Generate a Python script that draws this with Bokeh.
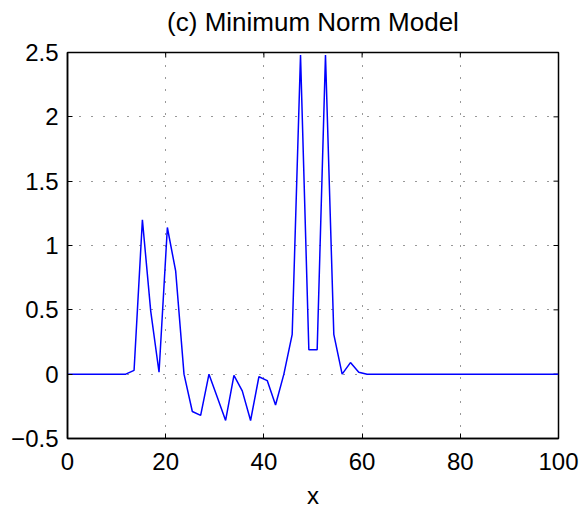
import numpy as np
from bokeh.plotting import figure
from bokeh.models import FixedTicker, Range1d, LinearAxis
from bokeh.embed import file_html
from bokeh.resources import INLINE

# ---- data ----
n_points = 60
x_values = np.linspace(0, 100, n_points)
y_values = [
    0, 0, 0, 0, 0, 0, 0, 0,            # i0-7
    0.03, 1.20, 0.49, 0.015, 1.14, 0.80,  # i8-13
    0.0, -0.29, -0.32, 0.0, -0.18, -0.36,  # i14-19
    -0.01, -0.13, -0.36, -0.02, -0.05, -0.24,  # i20-25
    0.0, 0.31, 2.48, 0.19, 0.19, 2.48,  # i26-31
    0.31, 0.0, 0.09, 0.015, 0.0,        # i32-36
    0, 0, 0, 0, 0, 0, 0, 0, 0, 0, 0, 0,
    0, 0, 0, 0, 0, 0, 0, 0, 0, 0, 0,    # i37-59
]
x_ticks = [0, 20, 40, 60, 80, 100]
x_tick_labels = ["0", "20", "40", "60", "80", "100"]
y_ticks = [-0.5, 0, 0.5, 1, 1.5, 2, 2.5]
y_tick_labels = ["\u22120.5", "0", "0.5", "1", "1.5", "2", "2.5"]
x_min, x_max = 0, 100
y_min, y_max = -0.5, 2.5

title_text = "(c) Minimum Norm Model"
x_label = "x"

FONT = "Liberation Sans"
FS = "24px"

p = figure(
    frame_width=491, frame_height=386,
    x_range=Range1d(x_min, x_max), y_range=Range1d(y_min, y_max),
    output_backend="svg", toolbar_location=None,
    min_border_left=67, min_border_right=23,
    min_border_top=52, min_border_bottom=70,
    background_fill_color="white", border_fill_color="white",
)

p.outline_line_color = "black"
p.outline_line_width = 1.5

xaxis = p.below[0]
yaxis = p.left[0]

for ax, ticks, labels in ((xaxis, x_ticks, x_tick_labels), (yaxis, y_ticks, y_tick_labels)):
    ax.ticker = FixedTicker(ticks=ticks)
    ax.major_label_overrides = {t: l for t, l in zip(ticks, labels)}
    ax.major_label_text_font = FONT
    ax.major_label_text_font_size = FS
    ax.major_label_text_color = "black"
    ax.major_tick_in = 5
    ax.major_tick_out = 0
    ax.major_tick_line_color = "black"
    ax.minor_tick_line_color = None
    ax.axis_line_color = "black"
    ax.axis_line_width = 1.5

xaxis.major_label_standoff = 14
yaxis.major_label_standoff = 9
xaxis.axis_label = x_label
xaxis.axis_label_text_font = FONT
xaxis.axis_label_text_font_size = FS
xaxis.axis_label_text_font_style = "normal"
xaxis.axis_label_text_color = "black"
xaxis.axis_label_standoff = 9

# title: drawn as the label of a tick-less top axis so that it sits
# 22px above the box without pushing the box down
title_axis = LinearAxis(ticker=FixedTicker(ticks=[]), axis_label=title_text,
                        axis_label_text_font=FONT, axis_label_text_font_size="26px",
                        axis_label_text_font_style="normal", axis_label_text_color="black",
                        axis_label_standoff=16, axis_line_color=None,
                        major_tick_line_color=None, minor_tick_line_color=None,
                        major_tick_in=0, major_tick_out=0, major_label_standoff=0)
p.add_layout(title_axis, "above")

for g in (p.xgrid[0], p.ygrid[0]):
    g.grid_line_color = "black"
    g.grid_line_dash = "1 11"
    g.grid_line_width = 1
    g.grid_line_alpha = 0.8

# inward ticks on the top and right edges of the box
p.ray(x=x_ticks, y=[y_max] * len(x_ticks), length=5, length_units="screen",
      angle=-np.pi / 2, line_color="black", line_width=1)
p.ray(x=[x_max] * len(y_ticks), y=y_ticks, length=5, length_units="screen",
      angle=np.pi, line_color="black", line_width=1)

p.line(x_values, y_values, line_color="#0000ff", line_width=1.5)

open("out.html", "w").write(file_html(p, INLINE))
